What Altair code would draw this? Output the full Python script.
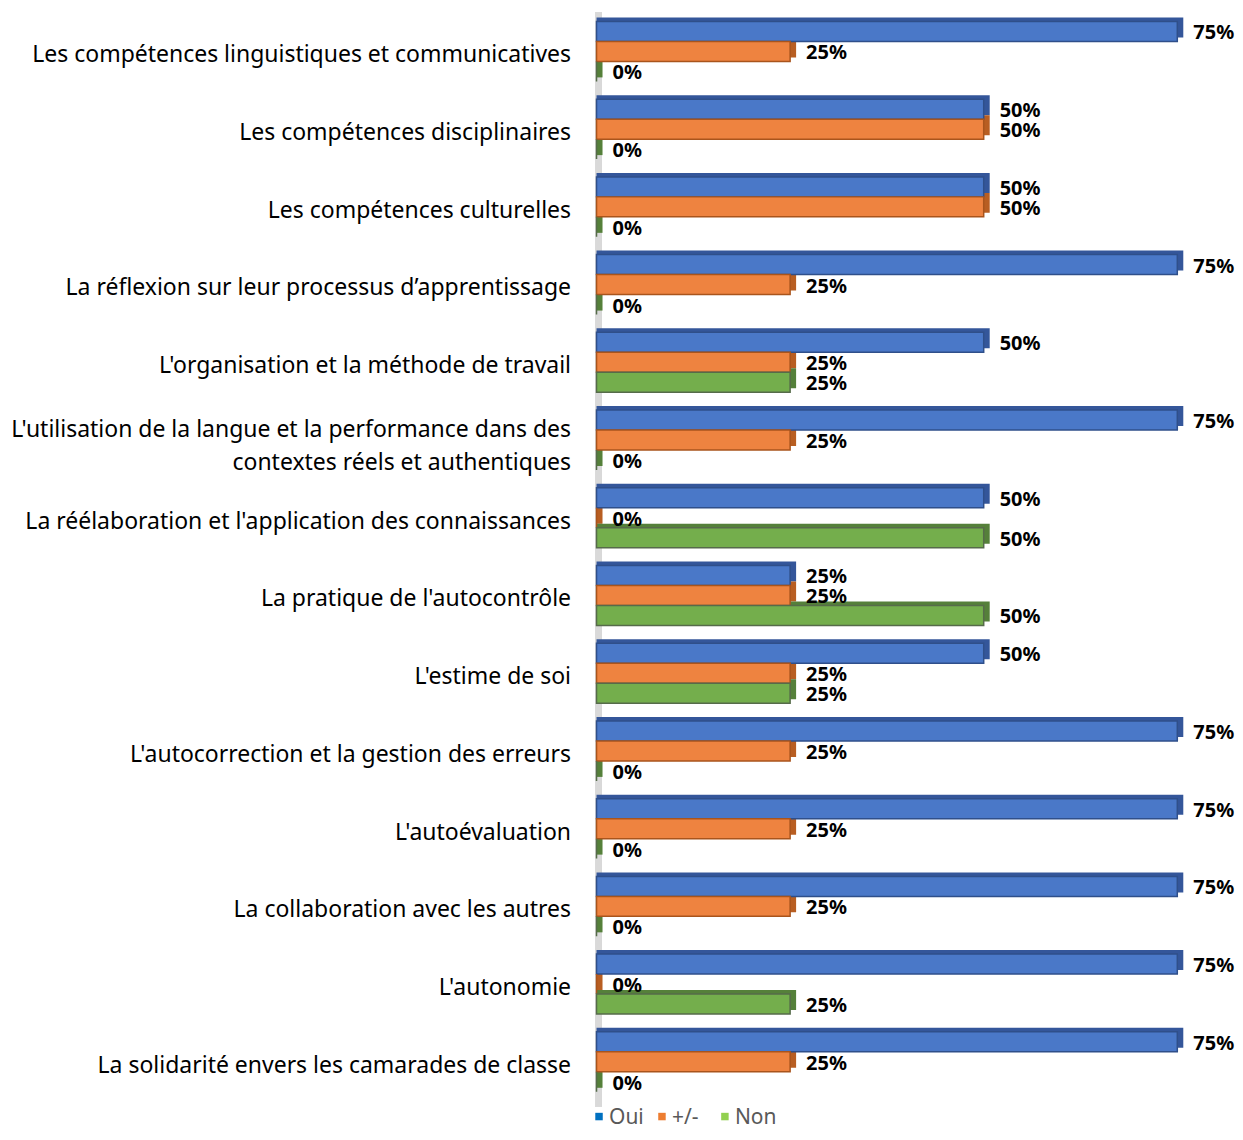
import altair as alt
import pandas as pd

categories = [
    "Les compétences linguistiques et communicatives",
    "Les compétences disciplinaires",
    "Les compétences culturelles",
    "La réflexion sur leur processus d’apprentissage",
    "L'organisation et la méthode de travail",
    "L'utilisation de la langue et la performance dans des|contextes réels et authentiques",
    "La réélaboration et l'application des connaissances",
    "La pratique de l'autocontrôle",
    "L'estime de soi",
    "L'autocorrection et la gestion des erreurs",
    "L'autoévaluation",
    "La collaboration avec les autres",
    "L'autonomie",
    "La solidarité envers les camarades de classe",
]
series = ["Oui", "+/-", "Non"]
oui = [75, 50, 50, 75, 50, 75, 50, 25, 50, 75, 75, 75, 75, 75]
plus_minus = [25, 50, 50, 25, 25, 25, 0, 25, 25, 25, 25, 25, 0, 25]
non = [0, 0, 0, 0, 25, 0, 50, 50, 25, 0, 0, 0, 25, 0]

fill_colors = ["#4a78c8", "#ee8340", "#74ae4c"]
stroke_colors = ["#2f4f8a", "#a9541c", "#566b4a"]
depth_colors = ["#34569a", "#b85e22", "#55803a"]
legend_colors = ["#0070C0", "#ED7D31", "#92D050"]

rows = []
for i, c in enumerate(categories):
    for s, vals in zip(series, [oui, plus_minus, non]):
        rows.append({"category": c, "series": s,
                     "value": vals[i] / 100.0, "label": f"{vals[i]}%"})
df = pd.DataFrame(rows)
legend_df = pd.DataFrame({"series": series})

W, H = 620, 1089

y_enc = alt.Y(
    "category:N", sort=categories,
    scale=alt.Scale(paddingInner=0.2314, paddingOuter=0.1157),
    axis=alt.Axis(title=None, domain=False, ticks=False, labelFontSize=23,
                  labelFont="Noto Sans", labelColor="#000000", labelPadding=26,
                  minExtent=589, maxExtent=589, labelLimit=600,
                  labelExpr="split(datum.label, '|')", labelLineHeight=33,
                  labelOffset={"condition": {"test": "indexof(datum.label, '|') >= 0",
                                             "value": -10}, "value": 4}),
)


def yoff(rng):
    return alt.YOffset("series:N", sort=series,
                       scale=alt.Scale(type="band", domain=series, range=rng,
                                       paddingInner=0, paddingOuter=0))


x_enc = alt.X("value:Q", stack=None, scale=alt.Scale(domain=[0, 0.8], nice=False), axis=None)

base = alt.Chart(df)

wall = base.mark_rule(color="#d9d9d9", strokeWidth=6).encode(
    x=alt.value(2), y=alt.value(0), y2=alt.value(H + 6)
)

shadow = base.mark_bar(xOffset=6, x2Offset=3).encode(
    x=x_enc, y=y_enc, yOffset=yoff([-4, 56]),
    fill=alt.Fill("series:N", scale=alt.Scale(domain=series, range=depth_colors), legend=None),
)

front = base.mark_bar(strokeWidth=1.5).encode(
    x=x_enc, y=y_enc, yOffset=yoff([0, 60]),
    fill=alt.Fill("series:N", scale=alt.Scale(domain=series, range=fill_colors), legend=None),
    stroke=alt.Stroke("series:N", scale=alt.Scale(domain=series, range=stroke_colors), legend=None),
)

labels = base.mark_text(align="left", baseline="middle", dx=16, dy=2,
                        fontWeight="bold", fontSize=20, font="Noto Sans",
                        color="#000000").encode(
    x=x_enc, y=y_enc, yOffset=yoff([0, 60]), text="label:N"
)

# legend drawn from its own small table
leg_x = alt.X("series:N", sort=series, axis=None,
              scale=alt.Scale(type="point", domain=series, range=[2.5, 128.5], padding=0))
leg_base = alt.Chart(legend_df)
leg_sq = leg_base.mark_square(size=56, opacity=1).encode(
    x=leg_x, y=alt.value(H + 16),
    fill=alt.Fill("series:N", scale=alt.Scale(domain=series, range=legend_colors), legend=None),
)
leg_txt = leg_base.mark_text(align="left", baseline="middle", dx=10, dy=1,
                             fontSize=21, font="Noto Sans", color="#595959").encode(
    x=leg_x, y=alt.value(H + 16), text="series:N"
)

chart = alt.layer(wall, shadow, front, labels, leg_sq, leg_txt).resolve_scale(
    fill="independent", yOffset="independent", x="independent"
).properties(
    width=W, height=H,
    padding={"left": 0, "top": 1, "right": 0, "bottom": 4},
).configure_view(stroke=None)

chart.save("out.html", embed_options={"renderer": "svg", "actions": False})
